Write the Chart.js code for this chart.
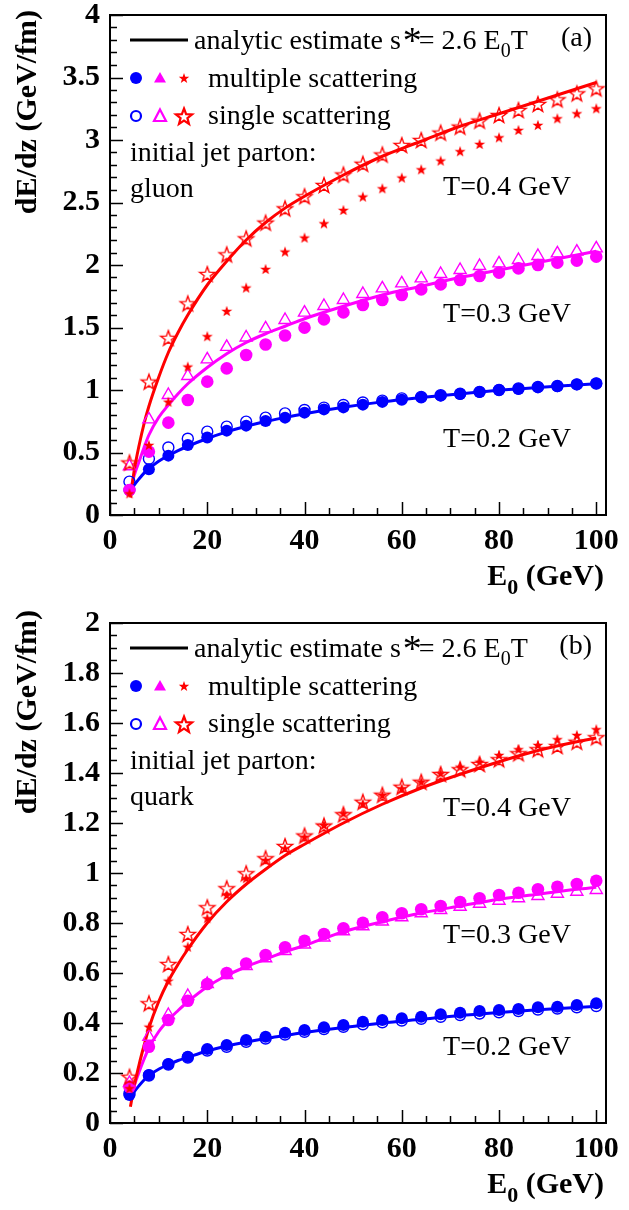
<!DOCTYPE html>
<html>
<head>
<meta charset="utf-8">
<script src="https://cdn.jsdelivr.net/npm/chart.js@4.4.1/dist/chart.umd.min.js"></script>
<style>
  html, body { margin: 0; padding: 0; background: #fff; }
  canvas { display: block; }
</style>
</head>
<body>
<canvas id="gluonChart" width="629" height="608"></canvas>
<canvas id="quarkChart" width="629" height="602"></canvas>
<script>
// jet energies of the simulated points (GeV)
const energies = [4, 8, 12, 16, 20, 24, 28, 32, 36, 40, 44, 48, 52, 56, 60, 64, 68, 72, 76, 80, 84, 88, 92, 96, 100];
// energies at which the analytic curves are sampled
const curveE = [4.2, 5, 6, 7, 8, 10, 12, 14, 16, 20, 24, 28, 32, 36, 40, 48, 56, 64, 72, 80, 88, 96, 100];

const xTicks = [0, 20, 40, 60, 80, 100];
const yTicksGluon = [0, 0.5, 1, 1.5, 2, 2.5, 3, 3.5, 4];
const yTicksQuark = [0, 0.2, 0.4, 0.6, 0.8, 1, 1.2, 1.4, 1.6, 1.8, 2];
const tempLabels = ['T=0.4 GeV', 'T=0.3 GeV', 'T=0.2 GeV'];

// gluon, dE/dz in GeV/fm
const gluonMultiT2 = [0.20, 0.366, 0.475, 0.56, 0.62, 0.675, 0.715, 0.752, 0.779, 0.819, 0.845, 0.861, 0.883, 0.905, 0.922, 0.94, 0.955, 0.968, 0.984, 1.0, 1.008, 1.021, 1.03, 1.045, 1.053];
const gluonSingleT2 = [0.267, 0.45, 0.54, 0.61, 0.667, 0.707, 0.747, 0.779, 0.813, 0.84, 0.859, 0.88, 0.9, 0.915, 0.933, 0.945, 0.958, 0.97, 0.985, 1.0, 1.012, 1.025, 1.032, 1.045, 1.052];
const gluonMultiT3 = [0.20, 0.507, 0.739, 0.92, 1.067, 1.173, 1.28, 1.364, 1.436, 1.499, 1.565, 1.621, 1.68, 1.72, 1.76, 1.805, 1.845, 1.88, 1.912, 1.939, 1.973, 2.0, 2.019, 2.035, 2.067];
const gluonSingleT3 = [0.39, 0.765, 0.96, 1.112, 1.245, 1.345, 1.42, 1.493, 1.56, 1.619, 1.672, 1.72, 1.768, 1.813, 1.853, 1.893, 1.928, 1.96, 1.992, 2.013, 2.04, 2.072, 2.093, 2.107, 2.133];
const gluonMultiT4 = [0.173, 0.56, 0.906, 1.187, 1.43, 1.632, 1.819, 1.968, 2.107, 2.219, 2.333, 2.44, 2.547, 2.613, 2.699, 2.765, 2.835, 2.91, 2.968, 3.021, 3.08, 3.12, 3.173, 3.213, 3.253];
const gluonSingleT4 = [0.42, 1.067, 1.417, 1.693, 1.928, 2.085, 2.213, 2.339, 2.453, 2.55, 2.64, 2.724, 2.81, 2.884, 2.96, 3.0, 3.059, 3.107, 3.155, 3.2, 3.24, 3.288, 3.325, 3.373, 3.413];
const gluonCurveT2 = [0.19, 0.24, 0.29, 0.335, 0.37, 0.43, 0.475, 0.515, 0.55, 0.612, 0.665, 0.71, 0.748, 0.78, 0.81, 0.862, 0.905, 0.94, 0.97, 0.998, 1.02, 1.04, 1.05];
const gluonCurveT3 = [0.2, 0.32, 0.43, 0.54, 0.64, 0.78, 0.88, 0.97, 1.05, 1.18, 1.29, 1.38, 1.45, 1.51, 1.57, 1.67, 1.76, 1.83, 1.9, 1.96, 2.02, 2.08, 2.11];
const gluonCurveT4 = [0.14, 0.36, 0.56, 0.73, 0.87, 1.1, 1.3, 1.46, 1.6, 1.84, 2.03, 2.2, 2.34, 2.455, 2.55, 2.72, 2.87, 2.99, 3.11, 3.21, 3.31, 3.41, 3.46];

// quark, dE/dz in GeV/fm
const quarkMultiT2 = [0.112, 0.192, 0.236, 0.265, 0.296, 0.312, 0.332, 0.345, 0.361, 0.372, 0.383, 0.392, 0.405, 0.412, 0.419, 0.425, 0.435, 0.441, 0.448, 0.452, 0.456, 0.463, 0.465, 0.472, 0.479];
const quarkSingleT2 = [0.118, 0.19, 0.234, 0.262, 0.29, 0.305, 0.325, 0.338, 0.354, 0.365, 0.376, 0.385, 0.395, 0.403, 0.41, 0.417, 0.425, 0.432, 0.438, 0.443, 0.448, 0.454, 0.458, 0.463, 0.468];
const quarkMultiT3 = [0.145, 0.305, 0.412, 0.489, 0.556, 0.6, 0.638, 0.672, 0.703, 0.729, 0.756, 0.779, 0.801, 0.823, 0.839, 0.855, 0.868, 0.884, 0.899, 0.912, 0.921, 0.935, 0.945, 0.956, 0.969];
const quarkSingleT3 = [0.16, 0.345, 0.432, 0.508, 0.556, 0.592, 0.628, 0.659, 0.688, 0.714, 0.742, 0.767, 0.787, 0.806, 0.823, 0.839, 0.852, 0.865, 0.877, 0.889, 0.899, 0.908, 0.917, 0.925, 0.932];
const quarkMultiT4 = [0.139, 0.385, 0.569, 0.705, 0.819, 0.912, 0.979, 1.052, 1.099, 1.145, 1.192, 1.239, 1.278, 1.312, 1.339, 1.365, 1.399, 1.425, 1.445, 1.472, 1.495, 1.512, 1.535, 1.552, 1.575];
const quarkSingleT4 = [0.185, 0.479, 0.636, 0.756, 0.863, 0.939, 0.999, 1.059, 1.108, 1.15, 1.19, 1.235, 1.285, 1.313, 1.345, 1.365, 1.396, 1.415, 1.436, 1.455, 1.479, 1.495, 1.508, 1.525, 1.543];
const quarkCurveT2 = [0.1, 0.125, 0.15, 0.172, 0.19, 0.215, 0.234, 0.25, 0.263, 0.288, 0.308, 0.324, 0.338, 0.35, 0.362, 0.382, 0.4, 0.415, 0.43, 0.442, 0.453, 0.462, 0.466];
const quarkCurveT3 = [0.09, 0.15, 0.205, 0.255, 0.3, 0.365, 0.412, 0.45, 0.485, 0.545, 0.59, 0.625, 0.655, 0.685, 0.71, 0.765, 0.805, 0.84, 0.868, 0.895, 0.915, 0.935, 0.943];
const quarkCurveT4 = [0.065, 0.15, 0.235, 0.31, 0.38, 0.485, 0.568, 0.635, 0.695, 0.8, 0.885, 0.955, 1.015, 1.07, 1.115, 1.2, 1.275, 1.34, 1.395, 1.445, 1.49, 1.525, 1.54];

const RED = '#ff0000', MAGENTA = '#ff00ff', BLUE = '#0000ff';
const SERIF = '"Liberation Serif", "Times New Roman", serif';

function starPath(ctx, cx, cy, outer, inner) {
  ctx.beginPath();
  for (let i = 0; i < 10; i++) {
    const r = i % 2 ? inner : outer;
    const a = -Math.PI / 2 + i * Math.PI / 5;
    ctx.lineTo(cx + r * Math.cos(a), cy + r * Math.sin(a));
  }
  ctx.closePath();
}

// little canvases used as point styles for the star markers
function starImage(outer, inner, color, filled) {
  const c = document.createElement('canvas');
  c.width = c.height = Math.ceil(2 * outer + 4);
  const ctx = c.getContext('2d');
  starPath(ctx, c.width / 2, c.height / 2 + outer * 0.1, outer, inner);
  if (filled) {
    ctx.fillStyle = color;
    ctx.fill();
  } else {
    ctx.strokeStyle = color;
    ctx.lineWidth = 1.4;
    ctx.stroke();
  }
  return c;
}

const filledStar = starImage(5.8, 2.3, RED, true);
const openStar = starImage(8, 3.3, RED, false);

const pts = ys => energies.map((e, i) => ({ x: e, y: ys[i] }));
const curvePts = ys => curveE.map((e, i) => ({ x: e, y: ys[i] }));

function curve(ys, color) {
  return {
    data: curvePts(ys), borderColor: color, borderWidth: 3, pointRadius: 0,
    fill: false, cubicInterpolationMode: 'monotone', order: 5
  };
}

function markers(ys, style, color, filled, radius) {
  return {
    data: pts(ys), showLine: false, pointStyle: style, pointRadius: radius,
    pointBackgroundColor: filled ? color : 'rgba(0,0,0,0)',
    pointBorderColor: color, pointBorderWidth: filled ? 0 : 1.4, order: 1
  };
}

// ticks drawn inside the frame, ROOT style
const framePlugin = {
  id: 'frame',
  afterDraw(chart, args, opts) {
    const { ctx, chartArea: a } = chart;
    const xs = chart.scales.x, ys = chart.scales.y;
    ctx.save();
    ctx.strokeStyle = '#000';
    ctx.lineWidth = 1.5;
    ctx.beginPath();
    for (let i = 0; i <= 20; i++) {
      const v = i * 5;
      const px = Math.round(xs.getPixelForValue(v)) + 0.5;
      const len = i % 4 === 0 ? 13 : 7;
      ctx.moveTo(px, a.bottom);
      ctx.lineTo(px, a.bottom - len);
    }
    const n = Math.round(opts.yMax / opts.yMinor);
    for (let i = 0; i <= n; i++) {
      const py = Math.round(ys.getPixelForValue(i * opts.yMinor)) + 0.5;
      const len = i % opts.perMajor === 0 ? 13 : 7;
      ctx.moveTo(a.left, py);
      ctx.lineTo(a.left + len, py);
    }
    ctx.stroke();
    ctx.lineWidth = 2;
    ctx.strokeRect(a.left, a.top, a.right - a.left, a.bottom - a.top);
    ctx.restore();
  }
};

// legend, panel tag, temperature labels and axis titles
const textPlugin = {
  id: 'panelText',
  afterDraw(chart, args, opts) {
    const { ctx, chartArea: a } = chart;
    const xs = chart.scales.x, ys = chart.scales.y;
    const top = a.top;
    ctx.save();
    ctx.fillStyle = '#000';
    ctx.textAlign = 'left';
    ctx.textBaseline = 'alphabetic';

    // row 1: analytic curve
    ctx.strokeStyle = '#000';
    ctx.lineWidth = 3;
    ctx.beginPath();
    ctx.moveTo(130, top + 25);
    ctx.lineTo(188, top + 25);
    ctx.stroke();
    let x = 194;
    const y1 = top + 34;
    ctx.font = '28px ' + SERIF;
    ctx.fillText('analytic estimate s', x, y1);
    x += ctx.measureText('analytic estimate s').width;
    ctx.font = '38px ' + SERIF;
    ctx.fillText('*', x + 2, y1 + 4);
    x += 18;
    ctx.font = '28px ' + SERIF;
    ctx.fillText('= 2.6 E', x, y1);
    x += ctx.measureText('= 2.6 E').width;
    ctx.font = '20px ' + SERIF;
    ctx.fillText('0', x, y1 + 8);
    x += ctx.measureText('0').width;
    ctx.font = '28px ' + SERIF;
    ctx.fillText('T', x, y1);

    // rows 2 and 3: marker keys
    const yM = top + 63, yS = top + 101;
    ctx.fillStyle = BLUE;
    ctx.beginPath(); ctx.arc(136, yM, 6, 0, Math.PI * 2); ctx.fill();
    ctx.strokeStyle = BLUE; ctx.lineWidth = 2.2;
    ctx.beginPath(); ctx.arc(136, yS, 5, 0, Math.PI * 2); ctx.stroke();
    ctx.fillStyle = MAGENTA; ctx.strokeStyle = MAGENTA;
    ctx.beginPath(); ctx.moveTo(160, yM - 6); ctx.lineTo(166, yM + 4.5); ctx.lineTo(154, yM + 4.5); ctx.closePath(); ctx.fill();
    ctx.lineWidth = 2.2;
    ctx.beginPath(); ctx.moveTo(160, yS - 6.5); ctx.lineTo(166, yS + 5); ctx.lineTo(154, yS + 5); ctx.closePath(); ctx.stroke();
    ctx.fillStyle = RED; ctx.strokeStyle = RED;
    starPath(ctx, 184, yM + 0.5, 5.5, 2.2); ctx.fill();
    ctx.lineWidth = 2.2;
    starPath(ctx, 184, yS + 1, 8.5, 3.6); ctx.stroke();

    ctx.fillStyle = '#000';
    ctx.font = '28px ' + SERIF;
    ctx.fillText('multiple scattering', 208, top + 72);
    ctx.fillText('single scattering', 208, top + 109);
    ctx.fillText('initial jet parton:', 130, top + 146);
    ctx.fillText(opts.parton, 130, top + 182);

    ctx.textAlign = 'right';
    ctx.fillText(opts.tag, 592, top + 31);

    // temperature labels
    ctx.textAlign = 'left';
    tempLabels.forEach((t, i) => {
      ctx.fillText(t, xs.getPixelForValue(opts.labelE), ys.getPixelForValue(opts.labelY[i]));
    });

    // x title with subscript
    ctx.font = 'bold 30px ' + SERIF;
    ctx.textAlign = 'right';
    const yt = a.bottom + 70;
    ctx.fillText(' (GeV)', 604, yt);
    const w1 = ctx.measureText(' (GeV)').width;
    ctx.font = 'bold 22px ' + SERIF;
    ctx.fillText('0', 604 - w1, yt + 9);
    const w2 = ctx.measureText('0').width;
    ctx.font = 'bold 30px ' + SERIF;
    ctx.fillText('E', 604 - w1 - w2, yt);

    // y title, rotated
    ctx.translate(28, opts.titleTop);
    ctx.rotate(-Math.PI / 2);
    ctx.textAlign = 'right';
    ctx.textBaseline = 'middle';
    ctx.fillText('dE/dz (GeV/fm)', 0, 0);
    ctx.restore();
  }
};

const tickFont = { family: SERIF, size: 30, weight: 'bold' };

function makePanel(id, cfg) {
  const canvas = document.getElementById(id);
  const H = canvas.height;
  return new Chart(canvas, {
    type: 'line',
    data: { datasets: cfg.datasets },
    options: {
      responsive: false,
      animation: false,
      layout: { padding: { top: 15, right: 23, left: 0, bottom: 0 } },
      plugins: {
        legend: { display: false },
        tooltip: { enabled: false },
        frame: { yMax: cfg.yMax, yMinor: cfg.yMinor, perMajor: cfg.perMajor },
        panelText: cfg.text
      },
      scales: {
        x: {
          type: 'linear', min: 0, max: 102,
          grid: { display: false, drawTicks: false },
          border: { display: false },
          afterBuildTicks: s => { s.ticks = xTicks.map(v => ({ value: v })); },
          afterFit: s => { s.height = H - 515; s.paddingLeft = 0; s.paddingRight = 0; },
          ticks: { font: tickFont, color: '#000', padding: 8, maxRotation: 0, autoSkip: false }
        },
        y: {
          type: 'linear', min: 0, max: cfg.yMax,
          grid: { display: false, drawTicks: false },
          border: { display: false },
          afterBuildTicks: s => { s.ticks = cfg.yTicks.map(v => ({ value: v })); },
          afterFit: s => { s.width = 110; s.paddingTop = 0; s.paddingBottom = 0; },
          ticks: {
            font: tickFont, color: '#000', padding: 10, autoSkip: false,
            callback: v => String(Math.round(v * 100) / 100)
          }
        }
      }
    },
    plugins: [framePlugin, textPlugin]
  });
}

makePanel('gluonChart', {
  yMax: 4, yMinor: 0.1, perMajor: 5, yTicks: yTicksGluon,
  text: { tag: '(a)', parton: 'gluon', titleTop: 10, labelE: 68.5, labelY: [2.56, 1.544, 0.544] },
  datasets: [
    curve(gluonCurveT4, RED), curve(gluonCurveT3, MAGENTA), curve(gluonCurveT2, BLUE),
    markers(gluonSingleT4, openStar, RED, false, 5),
    markers(gluonMultiT4, filledStar, RED, true, 5),
    markers(gluonSingleT3, 'triangle', MAGENTA, false, 7),
    markers(gluonMultiT3, 'circle', MAGENTA, true, 6.3),
    markers(gluonSingleT2, 'circle', BLUE, false, 5.5),
    markers(gluonMultiT2, 'circle', BLUE, true, 6)
  ]
});

makePanel('quarkChart', {
  yMax: 2, yMinor: 0.05, perMajor: 4, yTicks: yTicksQuark,
  text: { tag: '(b)', parton: 'quark', titleTop: 2, labelE: 68.5, labelY: [1.228, 0.72, 0.272] },
  datasets: [
    curve(quarkCurveT4, RED), curve(quarkCurveT3, MAGENTA), curve(quarkCurveT2, BLUE),
    markers(quarkSingleT4, openStar, RED, false, 5),
    markers(quarkMultiT4, filledStar, RED, true, 5),
    markers(quarkSingleT3, 'triangle', MAGENTA, false, 7),
    markers(quarkMultiT3, 'circle', MAGENTA, true, 6.3),
    markers(quarkSingleT2, 'circle', BLUE, false, 5.5),
    markers(quarkMultiT2, 'circle', BLUE, true, 6)
  ]
});
</script>
</body>
</html>
